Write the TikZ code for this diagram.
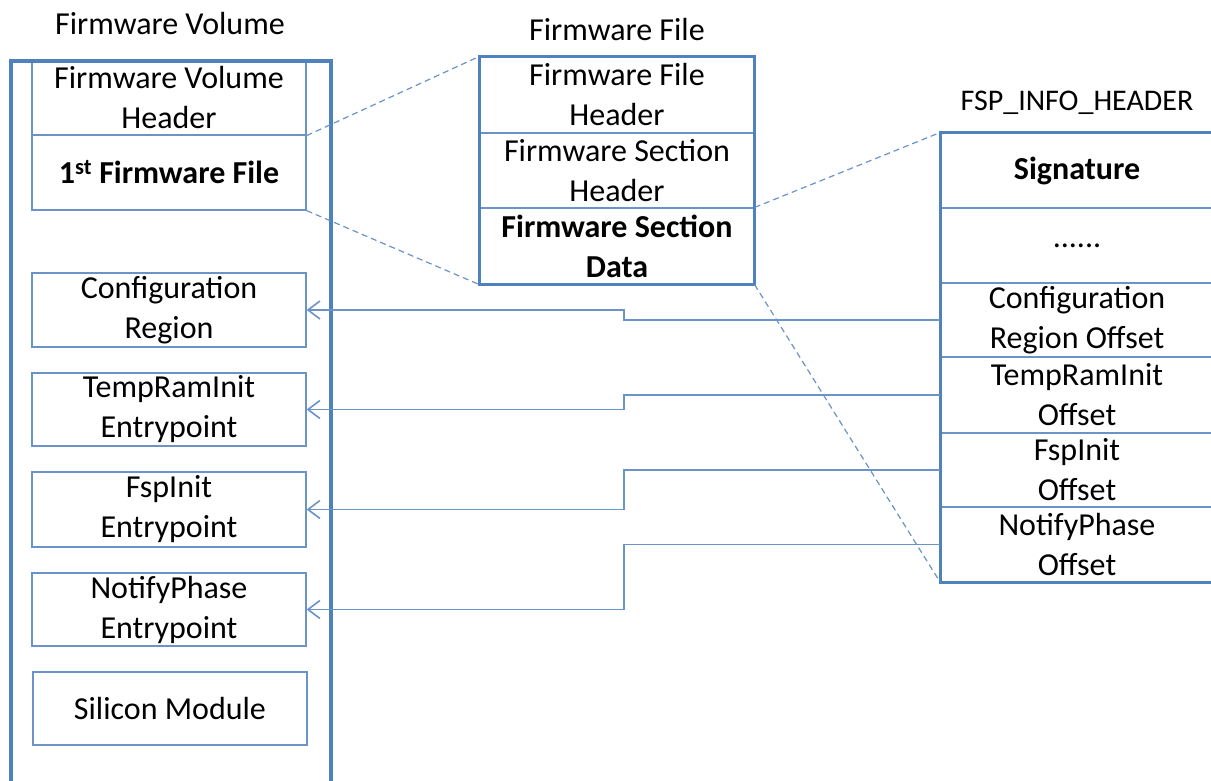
\documentclass[tikz,border=0pt]{standalone}
\usepackage{fontspec}
\setmainfont{Carlito}
\usepackage{tikz}
\usetikzlibrary{arrows.meta}
\definecolor{frame}{HTML}{4F81BD}
\definecolor{thin}{HTML}{6A93C8}
\tikzset{
  frameline/.style={draw=frame, line width=3.5pt},
  cell/.style={draw=thin, line width=1.2pt, minimum width=274pt, inner sep=0pt, align=center, font=\fontsize{32}{40}\selectfont},
  boldcell/.style={cell, font=\fontsize{32}{40}\selectfont\bfseries},
  dashedline/.style={draw=thin, line width=1.2pt, dash pattern=on 6pt off 4pt},
  arrline/.style={draw=thin, line width=1.6pt, -{Straight Barb[length=12pt,width=18pt]}},
  title/.style={font=\fontsize{32}{40}\selectfont}
}

\begin{document}
\begin{tikzpicture}[x=1pt,y=-1pt]
  \fill[white] (0,0) rectangle (1211,780);
  \useasboundingbox (0,0) rectangle (1211,780);
  \coordinate (mid) at (624,0);

  % firmware volume
  \node[title] (fvtitle) at (170,24) {Firmware Volume};
  \node[cell, minimum height=74pt] (fvh) at (169,98) {Firmware Volume\\Header};
  \node[boldcell, minimum height=75pt] (fvf) at (169,172.5) {1\textsuperscript{st} Firmware File};
  \node[cell, minimum height=74pt] (cfg) at (169,310) {Configuration\\Region};
  \node[cell, minimum height=73pt] (tri) at (169,409.5) {TempRamInit\\Entrypoint};
  \node[cell, minimum height=75pt] (fsi) at (169,509.5) {FspInit\\Entrypoint};
  \node[cell, minimum height=73pt] (ntf) at (169,609.5) {NotifyPhase\\Entrypoint};
  \node[cell, minimum height=73pt] (sil) at (170,708.5) {Silicon Module};
  \draw[frameline] (11,800) -- (11,61) -- (331,61) -- (331,800);

  % firmware file
  \node[title] (fftitle) at (617,30) {Firmware File};
  \node[cell, minimum height=76pt] (ffh) at (617,95) {Firmware File\\Header};
  \node[cell, minimum height=75pt] (fsh) at (617,170.5) {Firmware Section\\Header};
  \node[boldcell, minimum height=76pt] (fsd) at (617,246) {Firmware Section\\Data};
  \draw[frameline] (ffh.north west) rectangle (fsd.south east);

  % fsp info header
  \node[font=\fontsize{30}{36}\selectfont] (fsptitle) at (1077,103) {FSP\_INFO\_HEADER};
  \node[boldcell, minimum width=272pt, minimum height=75pt] (sig) at (1077,170.5) {Signature};
  \node[cell, minimum width=272pt, minimum height=75pt] (dots) at (1077,245.5) {......};
  \node[cell, minimum width=272pt, minimum height=74pt] (cro) at (1077,320) {Configuration\\Region Offset};
  \node[cell, minimum width=272pt, minimum height=76pt] (tro) at (1077,395) {TempRamInit\\Offset};
  \node[cell, minimum width=272pt, minimum height=74pt] (fio) at (1077,470) {FspInit\\Offset};
  \node[cell, minimum width=272pt, minimum height=75pt] (npo) at (1077,544.5) {NotifyPhase\\Offset};
  \draw[frameline] (sig.north west) rectangle (npo.south east);

  % zoom lines
  \draw[dashedline] (fvh.south east) -- (ffh.north west);
  \draw[dashedline] (fvf.south east) -- (fsd.south west);
  \draw[dashedline] (fsd.north east) -- (sig.north west);
  \draw[dashedline] (fsd.south east) -- (npo.south west);

  % offsets to entrypoints
  \draw[arrline] (cro.west) -- (cro.west -| mid) |- (cfg.east);
  \draw[arrline] (tro.west) -- (tro.west -| mid) |- (tri.east);
  \draw[arrline] (fio.west) -- (fio.west -| mid) |- (fsi.east);
  \draw[arrline] (npo.west) -- (npo.west -| mid) |- (ntf.east);
\end{tikzpicture}
\end{document}
